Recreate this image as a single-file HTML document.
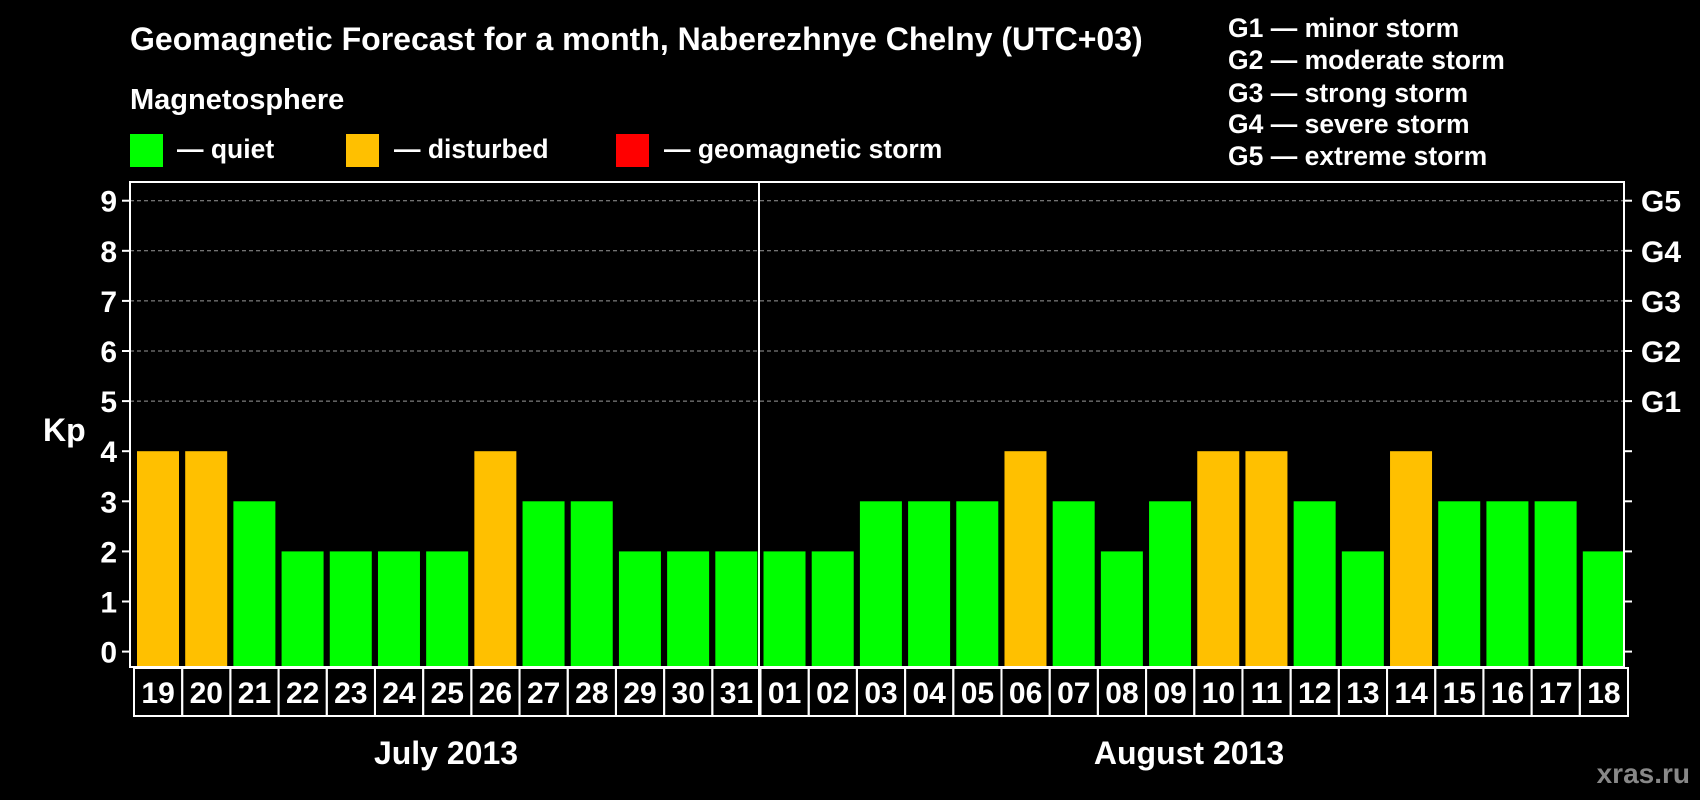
<!DOCTYPE html>
<html><head><meta charset="utf-8"><style>
html,body{margin:0;padding:0;background:#000;}
svg{display:block;font-family:"Liberation Sans",Arial,sans-serif;font-weight:bold;}
</style></head><body>
<svg id="chart" width="1700" height="800" viewBox="0 0 1700 800">
<rect width="1700" height="800" fill="#000"/>
<text x="130" y="50" fill="#fff" font-size="32">Geomagnetic Forecast for a month, Naberezhnye Chelny (UTC+03)</text>
<text x="130" y="109" fill="#fff" font-size="29">Magnetosphere</text>
<rect x="130" y="134" width="33" height="33" fill="#00ff00"/>
<text x="177" y="158" fill="#fff" font-size="26.5">— quiet</text>
<rect x="346" y="134" width="33" height="33" fill="#ffc000"/>
<text x="394" y="158" fill="#fff" font-size="26.5">— disturbed</text>
<rect x="616" y="134" width="33" height="33" fill="#ff0000"/>
<text x="664" y="158" fill="#fff" font-size="26.5">— geomagnetic storm</text>
<g fill="#fff" font-size="26.5">
<text x="1228" y="37">G1 — minor storm</text>
<text x="1228" y="69">G2 — moderate storm</text>
<text x="1228" y="102">G3 — strong storm</text>
<text x="1228" y="133">G4 — severe storm</text>
<text x="1228" y="165">G5 — extreme storm</text>
</g>
<text x="43" y="441" fill="#fff" font-size="32">Kp</text>
<g id="grid"></g><g id="bars"></g><g id="labels"></g>
<rect x="130" y="182" width="1494" height="485" fill="none" stroke="#fff" stroke-width="2"/>
<line x1="759" y1="182" x2="759" y2="716" stroke="#fff" stroke-width="2"/>
<text x="446" y="764" fill="#fff" font-size="32" text-anchor="middle">July 2013</text>
<text x="1189" y="764" fill="#fff" font-size="32" text-anchor="middle">August 2013</text>
<text x="1690" y="783" fill="#888" font-size="28" text-anchor="end">xras.ru</text>
</svg>
<script>
const days=["19","20","21","22","23","24","25","26","27","28","29","30","31","01","02","03","04","05","06","07","08","09","10","11","12","13","14","15","16","17","18"];
const kp=[4,4,3,2,2,2,2,4,3,3,2,2,2,2,2,3,3,3,4,3,2,3,4,4,3,2,4,3,3,3,2];
const yTicks=[0,1,2,3,4,5,6,7,8,9];
const gLabels=["","","","","","G1","G2","G3","G4","G5"];
const NS="http://www.w3.org/2000/svg";
const x0=130,x1=1624,yBase=667;
const yScale=v=>651.6-v*50.1;
const slot=(x1-x0)/days.length;
const xScale=i=>x0+i*slot;
const color=v=>v>=5?"#ff0000":(v>=4?"#ffc000":"#00ff00");
function mk(t,a,p){const e=document.createElementNS(NS,t);for(const k in a)e.setAttribute(k,a[k]);p.appendChild(e);return e;}
const grid=document.getElementById('grid');
yTicks.forEach((v,i)=>{
  const y=yScale(v);
  if(v>=5){const g=mk('line',{x1:x0,y1:y,x2:x1,y2:y,stroke:'#999','stroke-dasharray':'4,3','stroke-width':1},grid);
  
  }
  mk('line',{x1:x0-8,y1:y,x2:x0,y2:y,stroke:'#fff','stroke-width':2},grid);
  mk('line',{x1:x1,y1:y,x2:x1+8,y2:y,stroke:'#fff','stroke-width':2},grid);
  const t=mk('text',{x:117,y:y+11,fill:'#fff','font-size':30,'text-anchor':'end'},grid);t.textContent=v;
  
  
  if(gLabels[i]){const g2=mk('text',{x:1641,y:y+11,fill:'#fff','font-size':30},grid);g2.textContent=gLabels[i];
  
  }
});
const bars=document.getElementById('bars'),labels=document.getElementById('labels');
kp.forEach((v,i)=>{
  const x=xScale(i)+7,y=yScale(v);
  const r=mk('rect',{x:x,y:y,width:42,height:yBase-y,fill:color(v)},bars);
  
  
  const c=mk('rect',{x:xScale(i)+4,y:668,width:slot,height:48,fill:'none',stroke:'#fff','stroke-width':2},labels);
  
  
  const t=mk('text',{x:xScale(i)+4+slot/2,y:703,fill:'#fff','font-size':30,'text-anchor':'middle'},labels);t.textContent=days[i];
  
  
});
</script>
</body></html>
